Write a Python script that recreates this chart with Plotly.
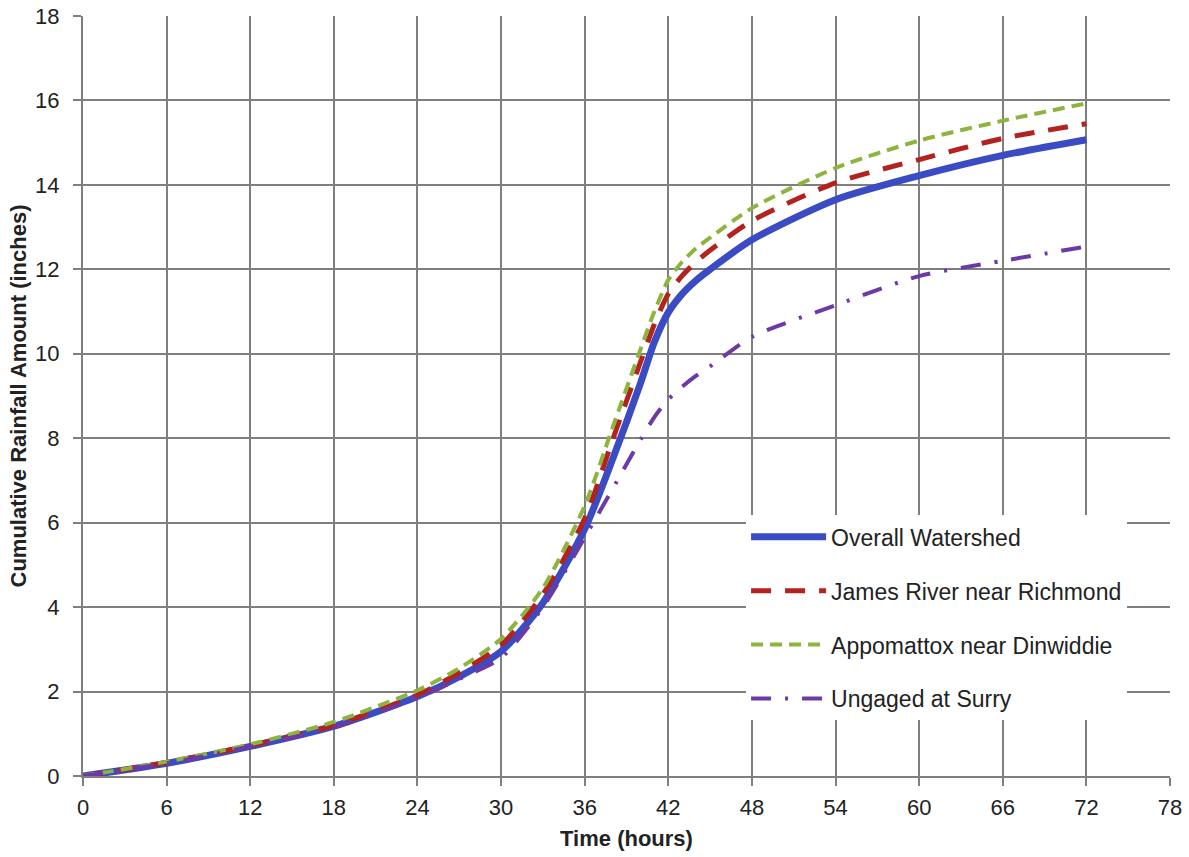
import plotly.graph_objects as go

hours = [0, 6, 12, 18, 24, 27, 30, 33, 36, 38, 40, 41, 42, 43, 44, 45, 48, 54, 60, 66, 72]
overall = [0, 0.30, 0.70, 1.18, 1.88, 2.35, 2.95, 4.10, 5.85, 7.50, 9.30, 10.28, 10.98, 11.42, 11.74, 12.00, 12.70, 13.65, 14.22, 14.70, 15.07]
james = [0, 0.32, 0.72, 1.20, 1.92, 2.45, 3.10, 4.30, 6.10, 7.96, 9.80, 10.70, 11.42, 11.85, 12.18, 12.45, 13.15, 14.05, 14.60, 15.10, 15.45]
appomattox = [0, 0.34, 0.75, 1.28, 2.03, 2.55, 3.25, 4.45, 6.40, 8.25, 10.10, 11.00, 11.75, 12.18, 12.50, 12.75, 13.45, 14.40, 15.05, 15.52, 15.93]
surry = [0, 0.30, 0.70, 1.15, 1.85, 2.30, 2.80, 4.00, 5.65, 6.80, 7.96, 8.50, 8.92, 9.22, 9.48, 9.70, 10.40, 11.15, 11.84, 12.20, 12.54]

names = ["Overall Watershed", "James River near Richmond", "Appomattox near Dinwiddie", "Ungaged at Surry"]
x_ticks = list(range(0, 79, 6))
y_ticks = list(range(0, 19, 2))

fig = go.Figure()
styles = [
    dict(color="#3B4BC4", width=7, dash="solid"),
    dict(color="#B3221E", width=5, dash="20px,14px"),
    dict(color="#8CB43E", width=4, dash="12px,7px"),
    dict(color="#6B3AA6", width=4, dash="20px,14px,3px,14px"),
]
for i, (name, ys) in enumerate(zip(names, [overall, james, appomattox, surry])):
    fig.add_trace(go.Scatter(
        x=hours, y=ys, name=name, mode="lines",
        line=dict(shape="spline", smoothing=0.7, **styles[i]),
        legendgroup=f"g{i}",
    ))

fig.update_layout(
    width=1189, height=857,
    margin=dict(l=83, r=19, t=16, b=81),
    paper_bgcolor="white", plot_bgcolor="white",
    font=dict(family="Liberation Sans, Arial, sans-serif", color="#222222"),
    showlegend=True,
    legend=dict(
        x=0.61, y=0.343, xanchor="left", yanchor="top",
        bgcolor="white", borderwidth=0,
        font=dict(size=23, color="#222222"),
        tracegroupgap=21, itemwidth=75,
    ),
)
fig.update_xaxes(
    range=[0, 78], tickvals=x_ticks, ticktext=[str(v) for v in x_ticks],
    showgrid=True, gridcolor="#7f7f7f", gridwidth=2,
    showline=True, linecolor="#7f7f7f", linewidth=2,
    ticks="outside", ticklen=8, tickwidth=2, tickcolor="#7f7f7f",
    tickfont=dict(size=22, color="#222222"), ticklabelstandoff=3,
    ticklabeloverflow="allow",
    zeroline=False, automargin=False,
    title=dict(text="<b>Time (hours)</b>", font=dict(size=22, color="#222222"), standoff=11),
)
fig.update_yaxes(
    range=[0, 18], tickvals=y_ticks, ticktext=[str(v) for v in y_ticks],
    showgrid=True, gridcolor="#7f7f7f", gridwidth=2,
    showline=True, linecolor="#7f7f7f", linewidth=2,
    ticks="outside", ticklen=8, tickwidth=2, tickcolor="#7f7f7f",
    tickfont=dict(size=22, color="#222222"), ticklabelstandoff=9,
    ticklabeloverflow="allow",
    zeroline=False, automargin=False,
    title=dict(text="<b>Cumulative Rainfall Amount (inches)</b>", font=dict(size=22, color="#222222"), standoff=2),
)

fig.write_html(
    "out.html",
    config={"displayModeBar": False},
    post_script="document.body.style.margin='0';document.body.style.overflow='hidden';",
)
